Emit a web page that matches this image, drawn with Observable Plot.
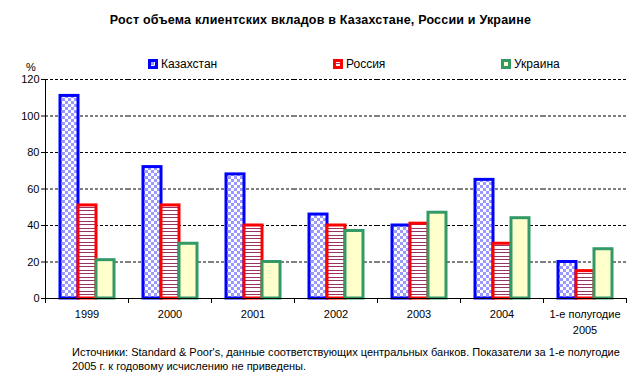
<!DOCTYPE html>
<html>
<head>
<meta charset="utf-8">
<script src="https://cdn.jsdelivr.net/npm/d3@7"></script>
<script src="https://cdn.jsdelivr.net/npm/@observablehq/plot@0.6"></script>
<style>
  html, body { margin: 0; padding: 0; background: #ffffff; }
  #wrap { position: relative; width: 641px; height: 385px; font-family: Arial, "Liberation Sans", sans-serif; color: #000; overflow: hidden; }
  #title { position: absolute; top: 13px; left: 0; width: 641px; text-align: center; font-weight: bold; font-size: 12.5px; letter-spacing: 0.2px; }
  .leg { position: absolute; top: 57px; font-size: 12px; display: flex; align-items: center; white-space: nowrap; }
  .leg svg { margin-right: 3px; }
  #pct { position: absolute; left: 26px; top: 61px; font-size: 11px; }
  #chart { position: absolute; left: 0; top: 56px; }
  #caption { position: absolute; left: 72px; top: 345px; font-size: 11px; line-height: 14px; width: 560px; }
</style>
</head>
<body>
<div id="wrap">
  <div id="title">Рост объема клиентских вкладов в Казахстане, России и Украине</div>
  <div id="legend"></div>
  <div id="pct">%</div>
  <div id="chart"></div>
  <div id="caption">Источники: Standard &amp; Poor's, данные соответствующих центральных банков. Показатели за 1-е полугодие 2005 г. к годовому исчислению не приведены.</div>
</div>
<script>
// ---- data ----
const categories = ["1999", "2000", "2001", "2002", "2003", "2004", "1-е полугодие\n2005"];
const seriesNames = ["Казахстан", "Россия", "Украина"];
const kazakhstan = [111, 72, 68, 46, 40, 65, 20];
const russia = [51, 51, 40, 40, 41, 30, 15];
const ukraine = [21, 30, 20, 37, 47, 44, 27];
const yTicks = [0, 20, 40, 60, 80, 100, 120];

// ---- styles ----
const strokeColors = ["#0000ff", "#ff0000", "#339966"];
const patternIds = ["pat-kz", "pat-ru", "pat-ua"];
const legendLefts = [148, 333, 501];

const seriesValues = [kazakhstan, russia, ukraine];
const rowsBySeries = seriesNames.map((s, si) =>
  categories.map((c, i) => ({category: c, series: s, value: seriesValues[si][i]}))
);

const barMarks = rowsBySeries.map((rows, si) =>
  Plot.barY(rows, {
    fx: "category",
    x: "series",
    y: "value",
    fill: `url(#${patternIds[si]})`,
    stroke: strokeColors[si],
    strokeWidth: 3
  })
);

const chart = Plot.plot({
  width: 641,
  height: 284,
  marginTop: 23,
  marginLeft: 43,
  marginRight: 14,
  marginBottom: 42,
  style: {fontFamily: "Arial, 'Liberation Sans', sans-serif", fontSize: "11px", color: "#000", background: "transparent", overflow: "visible"},
  fx: {domain: categories, padding: 0, label: null},
  x: {domain: seriesNames, paddingInner: 0, paddingOuter: 0.695, axis: null},
  y: {domain: [0, 120]},
  marks: [
    Plot.gridY(yTicks.filter(d => d > 0), {stroke: "#000", strokeOpacity: 1, strokeDasharray: "3,2"}),
    Plot.axisY({ticks: yTicks, tickSize: 4, tickPadding: 2, label: null}),
    Plot.axisFx({anchor: "bottom", tickSize: 0, tickPadding: 9, label: null, lineHeight: 1.4}),
    ...barMarks,
    Plot.ruleY([0], {stroke: "#000", strokeWidth: 1}),
    Plot.frame({anchor: "left", fx: [categories[0]], stroke: "#000"}),
    Plot.frame({anchor: "left", insetTop: 219, insetBottom: -4, stroke: "#000"}),
    Plot.frame({anchor: "right", insetTop: 219, insetBottom: -4, fx: [categories[categories.length - 1]], stroke: "#000"})
  ]
});

// patterns
const svg = d3.select(chart.tagName.toLowerCase() === "svg" ? chart : chart.querySelector("svg"));
const defs = svg.insert("defs", ":first-child");
const pk = defs.append("pattern").attr("id", "pat-kz").attr("patternUnits", "userSpaceOnUse").attr("width", 6).attr("height", 6);
pk.append("rect").attr("width", 6).attr("height", 6).attr("fill", "#ffffff");
pk.append("rect").attr("width", 3).attr("height", 3).attr("fill", "#9999ff");
pk.append("rect").attr("x", 3).attr("y", 3).attr("width", 3).attr("height", 3).attr("fill", "#9999ff");
const pr = defs.append("pattern").attr("id", "pat-ru").attr("patternUnits", "userSpaceOnUse").attr("width", 4).attr("height", 7);
pr.append("rect").attr("width", 4).attr("height", 7).attr("fill", "#ffffff");
pr.append("rect").attr("width", 4).attr("height", 1).attr("fill", "#993366");
pr.append("rect").attr("y", 4).attr("width", 4).attr("height", 1).attr("fill", "#993366");
const pu = defs.append("pattern").attr("id", "pat-ua").attr("patternUnits", "userSpaceOnUse").attr("width", 4).attr("height", 4);
pu.append("rect").attr("width", 4).attr("height", 4).attr("fill", "#ffffcc");

document.getElementById("chart").appendChild(chart);

// legend
const legend = d3.select("#legend");
seriesNames.forEach((name, si) => {
  const item = legend.append("div").attr("class", "leg").style("left", legendLefts[si] + "px");
  const sw = item.append("svg").attr("width", 10).attr("height", 10);
  sw.append("rect").attr("x", 1.5).attr("y", 1.5).attr("width", 7).attr("height", 7)
    .attr("fill", `url(#${patternIds[si]})`).attr("stroke", strokeColors[si]).attr("stroke-width", 3);
  item.append("span").text(name);
});
</script>
</body>
</html>
